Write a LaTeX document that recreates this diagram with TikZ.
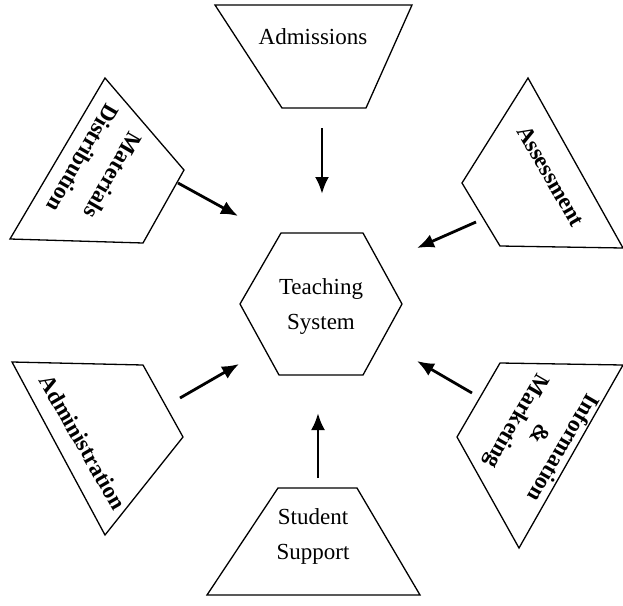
\documentclass[tikz,border=0pt]{standalone}
\usepackage{fontspec}
\setmainfont{Liberation Serif}
\usetikzlibrary{arrows.meta}
\begin{document}
\begin{tikzpicture}[x=1pt,y=-1pt,
  shapeline/.style={line width=1.3pt, line join=miter},
  lbl/.style={font=\fontsize{23}{35}\selectfont, align=center, inner sep=0pt},
  rlbl/.style={lbl, font=\fontsize{23}{35}\selectfont\bfseries},
  flow/.style={line width=2.8pt, -{Latex[length=17pt,width=14pt]}}]
\useasboundingbox (0,0) rectangle (623,605);
% hexagon
\draw[shapeline] (281,233) -- (363,233) -- (402,304) -- (363,375) -- (279,375) -- (240,304) -- cycle;
\node[lbl] (teach) at (321,306) {Teaching\\System};
% Admissions
\draw[shapeline] (215,5) -- (412,5) -- (366,108) -- (282,108) -- cycle;
\node[lbl] (adm) at (313,37) {Admissions};
% Student Support
\draw[shapeline] (278,488) -- (357,488) -- (420,595) -- (207,595) -- cycle;
\node[lbl] (stud) at (313,536) {Student\\Support};
% Materials Distribution
\draw[shapeline] (105,78) -- (184,170) -- (143,243) -- (10,239) -- cycle;
\node[rlbl, rotate=-120] (mat) at (98,167) {Materials\\Distribution};
% Assessment
\draw[shapeline] (528,78) -- (623,248) -- (500,246) -- (462,183) -- cycle;
\node[rlbl, rotate=-60] (ass) at (551,176) {Assessment};
% Administration
\draw[shapeline] (12,362) -- (143,365) -- (183,437) -- (105,535) -- cycle;
\node[rlbl, rotate=-60] (admin) at (83,442) {Administration};
% Information & Marketing
\draw[shapeline] (500,363) -- (623,365) -- (519,548) -- (457,437) -- cycle;
\node[rlbl, rotate=-120, font=\fontsize{23}{27}\selectfont\bfseries] (info) at (539,434) {Information\\\&\\Marketing};
% arrows
\coordinate (a1s) at (322,128); \coordinate (a1e) at (322,194);
\coordinate (a2s) at (178,183); \coordinate (a2e) at (238,216);
\coordinate (a3s) at (476,222); \coordinate (a3e) at (417,248);
\coordinate (a4s) at (180,398); \coordinate (a4e) at (239,364);
\coordinate (a5s) at (472,393); \coordinate (a5e) at (417,361);
\coordinate (a6s) at (318,478); \coordinate (a6e) at (318,413);
\draw[flow] (a1s) -- (a1e);
\draw[flow] (a2s) -- (a2e);
\draw[flow] (a3s) -- (a3e);
\draw[flow] (a4s) -- (a4e);
\draw[flow] (a5s) -- (a5e);
\draw[flow] (a6s) -- (a6e);
\end{tikzpicture}
\end{document}
